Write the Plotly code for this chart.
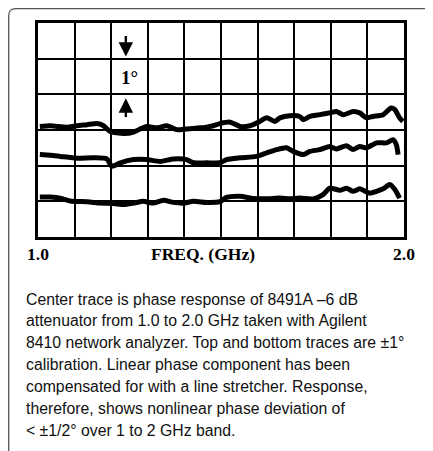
import plotly.graph_objects as go

# Frequency (GHz) and phase trace positions (degrees, 1 division = 1 degree)
top_freq = [1.005, 1.034, 1.079, 1.106, 1.134, 1.161, 1.179, 1.197, 1.234, 1.261, 1.279, 1.297,
            1.325, 1.352, 1.379, 1.406, 1.443, 1.461, 1.479, 1.497, 1.525, 1.552, 1.579, 1.606,
            1.625, 1.647, 1.661, 1.688, 1.715, 1.725, 1.743, 1.770, 1.797, 1.815, 1.834, 1.861,
            1.879, 1.897, 1.915, 1.943, 1.965, 1.975, 1.988, 1.997]
top_phase = [3.10, 3.12, 3.08, 3.12, 3.15, 3.18, 3.12, 2.96, 2.90, 2.94, 3.03, 3.10,
             3.06, 3.12, 3.01, 3.03, 3.06, 3.08, 3.12, 3.18, 3.22, 3.10, 3.12, 3.24,
             3.34, 3.24, 3.34, 3.40, 3.38, 3.29, 3.38, 3.43, 3.48, 3.52, 3.43, 3.52,
             3.48, 3.34, 3.38, 3.43, 3.62, 3.57, 3.34, 3.24]

mid_freq = [1.005, 1.034, 1.061, 1.106, 1.152, 1.188, 1.202, 1.225, 1.261, 1.297, 1.334, 1.370,
            1.406, 1.425, 1.461, 1.497, 1.515, 1.552, 1.597, 1.625, 1.652, 1.679, 1.697, 1.725,
            1.743, 1.770, 1.797, 1.815, 1.843, 1.861, 1.879, 1.897, 1.925, 1.952, 1.970, 1.979,
            1.984]
mid_phase = [2.31, 2.29, 2.26, 2.21, 2.22, 2.19, 1.98, 2.08, 2.17, 2.17, 2.12, 2.19,
             2.17, 2.08, 2.08, 2.08, 2.17, 2.22, 2.26, 2.36, 2.45, 2.50, 2.40, 2.31,
             2.40, 2.45, 2.54, 2.47, 2.56, 2.45, 2.54, 2.50, 2.64, 2.64, 2.73, 2.59,
             2.31]

bot_freq = [1.005, 1.034, 1.061, 1.093, 1.134, 1.170, 1.206, 1.234, 1.261, 1.288, 1.315, 1.343,
            1.370, 1.397, 1.425, 1.461, 1.497, 1.515, 1.552, 1.588, 1.625, 1.661, 1.688, 1.715,
            1.752, 1.779, 1.797, 1.825, 1.843, 1.861, 1.879, 1.906, 1.925, 1.943, 1.961, 1.975,
            1.988]
bot_phase = [1.12, 1.12, 1.09, 1.00, 0.99, 0.95, 0.94, 0.91, 0.95, 1.00, 0.95, 1.03,
             0.97, 0.95, 1.00, 0.97, 0.99, 1.11, 1.14, 1.08, 1.07, 1.09, 1.07, 1.09,
             1.07, 1.19, 1.37, 1.31, 1.37, 1.28, 1.35, 1.23, 1.28, 1.35, 1.47, 1.33,
             1.09]

x_labels = ["1.0", "FREQ. (GHz)", "2.0"]
x_label_pos = [1.0, 1.45, 2.0]

caption_lines = [
    "Center trace is phase response of 8491A \u20136 dB",
    "attenuator from 1.0 to 2.0 GHz taken with Agilent",
    "8410 network analyzer. Top and bottom traces are \u00b11\u00b0",
    "calibration. Linear phase component has been",
    "compensated for with a line stretcher. Response,",
    "therefore, shows nonlinear phase deviation of",
    "< \u00b11/2\u00b0 over 1 to 2 GHz band.",
]

# page has an 8px body margin, so the figure is sized/offset accordingly
W, H = 425, 443
L, R, T, B = 30, 29, 15, 214
pw = W - L - R
ph = H - T - B


def py_to_paper(page_y):
    return (ph - (page_y - 8 - T)) / ph


def px_to_paper(page_x):
    return (page_x - 8 - L) / pw


fig = go.Figure()
for xs, ys in [(top_freq, top_phase), (mid_freq, mid_phase), (bot_freq, bot_phase)]:
    fig.add_trace(go.Scatter(x=xs, y=ys, mode="lines",
                             line=dict(color="black", width=5, shape="spline", smoothing=0.6),
                             hoverinfo="skip", showlegend=False))

serif = "Liberation Serif, Times New Roman, serif"
annotations = []
for txt, xv in zip(x_labels, x_label_pos):
    annotations.append(dict(x=xv, xref="x", y=py_to_paper(254), yref="paper",
                            text="<b>" + txt + "</b>",
                            showarrow=False, xanchor="center", yanchor="middle",
                            font=dict(family=serif, size=17.5, color="black")))

# 1 degree marker
annotations.append(dict(x=1.251, y=4.46, xref="x", yref="y", text="<b>1\u00b0</b>",
                        showarrow=False, font=dict(family=serif, size=19, color="black")))
annotations.append(dict(x=1.240, y=5.06, xref="x", yref="y", ax=1.240, ay=5.68,
                        axref="x", ayref="y", text="", showarrow=True, arrowhead=2,
                        arrowsize=1.2, arrowwidth=2.4, arrowcolor="black"))
annotations.append(dict(x=1.240, y=3.89, xref="x", yref="y", ax=1.240, ay=3.32,
                        axref="x", ayref="y", text="", showarrow=True, arrowhead=2,
                        arrowsize=1.2, arrowwidth=2.4, arrowcolor="black"))

line_gap = 21.9
for i, line in enumerate(caption_lines):
    annotations.append(dict(x=px_to_paper(23.5), xref="paper",
                            y=py_to_paper(299 + i * line_gap), yref="paper",
                            text=line, showarrow=False,
                            xanchor="left", yanchor="middle", align="left",
                            font=dict(family="Liberation Sans, Arial, sans-serif",
                                      size=15.8, color="#111111")))

x0 = px_to_paper(8.7)
y0 = py_to_paper(8.7)
rx = 7 / pw
ry = 7 / ph
frame_path = (f"M {x0},-1.3 L {x0},{y0 - ry} Q {x0},{y0} {x0 + rx},{y0} L 1.3,{y0}")

fig.update_layout(
    width=W, height=H,
    margin=dict(l=L, r=R, t=T, b=B, pad=0),
    paper_bgcolor="white", plot_bgcolor="white",
    xaxis=dict(range=[1.0, 2.0], dtick=0.1, tick0=1.0, showgrid=True, gridcolor="black",
               gridwidth=2, showticklabels=False, ticks="", zeroline=False,
               showline=True, linecolor="black", linewidth=3, mirror=True),
    yaxis=dict(range=[0, 6], dtick=1, tick0=0, showgrid=True, gridcolor="black",
               gridwidth=2, showticklabels=False, ticks="", zeroline=False,
               showline=True, linecolor="black", linewidth=3, mirror=True),
    annotations=annotations,
    shapes=[dict(type="path", xref="paper", yref="paper", path=frame_path,
                 line=dict(color="#555555", width=1.3))],
    showlegend=False,
)

fig.write_html("out.html")
